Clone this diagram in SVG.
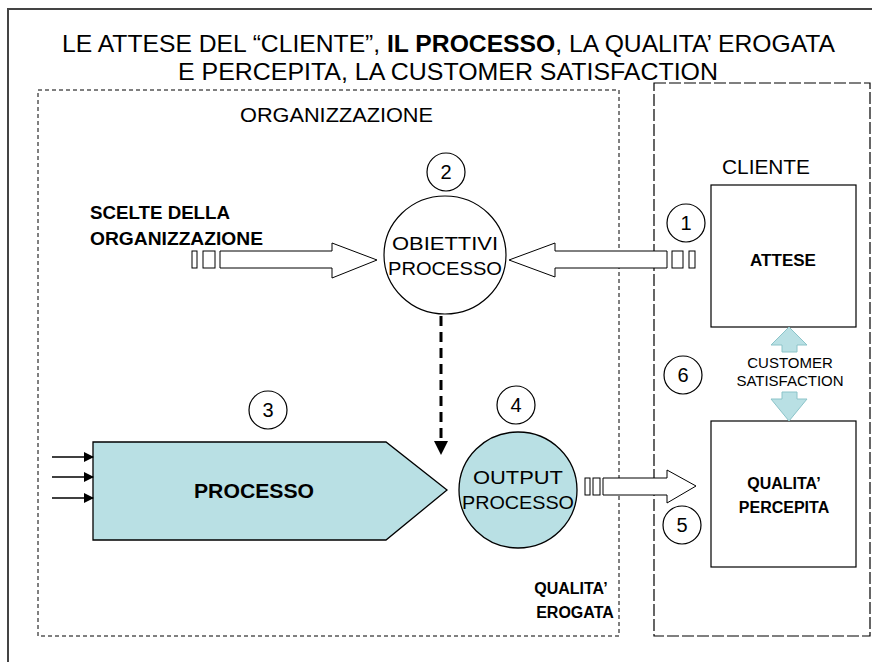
<svg xmlns="http://www.w3.org/2000/svg" width="872" height="662" viewBox="0 0 872 662">
<style>
text{font-family:"Liberation Sans",Arial,sans-serif;fill:#000}
.b{font-weight:bold}
.num{font-size:20px;text-anchor:middle}
.nc{fill:#fff;stroke:#000;stroke-width:1.2}
.teal{fill:#b9e0e4;stroke:#000;stroke-width:1.3}
.blk{fill:#fff;stroke:#000;stroke-width:1.2}
.lbl{font-size:16px;text-anchor:middle}
.big{font-size:19px;text-anchor:middle}
</style>
<defs>
<marker id="ah" markerWidth="10" markerHeight="10" refX="9" refY="5" orient="auto" markerUnits="userSpaceOnUse">
<path d="M0,0 L10,5 L0,10 Z" fill="#000"/>
</marker>
</defs>
<rect width="872" height="662" fill="#fff"/>
<g id="frame">
<path d="M8,662 V9 H872" fill="none" stroke="#444" stroke-width="2"/>
</g>
<g id="title">
<text x="62" y="52" font-size="24" textLength="773" lengthAdjust="spacingAndGlyphs">LE ATTESE DEL “CLIENTE”, <tspan class="b">IL PROCESSO</tspan>, LA QUALITA’ EROGATA</text>
<text x="178" y="80" font-size="24" textLength="540" lengthAdjust="spacingAndGlyphs">E PERCEPITA, LA CUSTOMER SATISFACTION</text>
</g>
<g id="organizzazione">
<rect x="38" y="90" width="581" height="546" fill="none" stroke="#000" stroke-width="1" stroke-dasharray="4,3"/>
<text x="240" y="122" font-size="21" textLength="193" lengthAdjust="spacingAndGlyphs">ORGANIZZAZIONE</text>
</g>
<g id="cliente">
<rect x="654" y="83" width="216" height="553" fill="none" stroke="#000" stroke-width="1.2" stroke-dasharray="12,3"/>
<text x="766" y="174" font-size="20" text-anchor="middle" textLength="88" lengthAdjust="spacingAndGlyphs">CLIENTE</text>
</g>
<g id="scelte">
<text x="90" y="219" font-size="18" class="b" textLength="140" lengthAdjust="spacingAndGlyphs">SCELTE DELLA</text>
<text x="90" y="245" font-size="18" class="b" textLength="173" lengthAdjust="spacingAndGlyphs">ORGANIZZAZIONE</text>
</g>
<g id="n2">
<circle cx="446" cy="172" r="19" class="nc"/>
<text x="446" y="179" class="num">2</text>
</g>
<g id="obiettivi">
<ellipse cx="445" cy="255" rx="61" ry="59" class="blk"/>
<text x="445" y="250" class="big" textLength="106" lengthAdjust="spacingAndGlyphs">OBIETTIVI</text>
<text x="445" y="275" class="big" textLength="114" lengthAdjust="spacingAndGlyphs">PROCESSO</text>
</g>
<g id="n1">
<circle cx="686" cy="223" r="19" class="nc"/>
<text x="686" y="230" class="num">1</text>
</g>
<g id="attese">
<rect x="711" y="185" width="145" height="142" class="blk"/>
<text x="783" y="266" font-size="17" class="b" text-anchor="middle">ATTESE</text>
</g>
<g id="n3">
<circle cx="268" cy="410" r="19" class="nc"/>
<text x="268" y="417" class="num">3</text>
</g>
<g id="processo">
<path d="M93,442 H386 L447,490 L386,540 H93 Z" class="teal"/>
<text x="254" y="498" font-size="20" class="b" text-anchor="middle" textLength="120" lengthAdjust="spacingAndGlyphs">PROCESSO</text>
</g>
<g id="n4">
<circle cx="516" cy="405" r="19" class="nc"/>
<text x="516" y="412" class="num">4</text>
</g>
<g id="output">
<ellipse cx="518" cy="490" rx="59" ry="58" class="teal"/>
<text x="518" y="484" class="big" textLength="90" lengthAdjust="spacingAndGlyphs">OUTPUT</text>
<text x="518" y="509" class="big" textLength="112" lengthAdjust="spacingAndGlyphs">PROCESSO</text>
</g>
<g id="n5">
<circle cx="682" cy="525" r="19" class="nc"/>
<text x="682" y="532" class="num">5</text>
</g>
<g id="n6">
<circle cx="683" cy="375" r="19" class="nc"/>
<text x="683" y="382" class="num">6</text>
</g>
<g id="qualita-percepita">
<rect x="711" y="421" width="145" height="146" class="blk"/>
<text x="784" y="489" class="lbl b">QUALITA’</text>
<text x="784" y="513" class="lbl b">PERCEPITA</text>
</g>
<g id="qualita-erogata">
<text x="571" y="594" class="lbl b">QUALITA’</text>
<text x="575" y="618" class="lbl b">EROGATA</text>
</g>
<g id="customer-satisfaction">
<text x="790" y="368" font-size="15" text-anchor="middle">CUSTOMER</text>
<text x="790" y="386" font-size="15" text-anchor="middle">SATISFACTION</text>
</g>
<g id="connectors">
<g fill="#fff" stroke="#000" stroke-width="1">
<rect x="192" y="251" width="5" height="17"/>
<rect x="203" y="251" width="12" height="17"/>
<path d="M220,251 H332 V243 L377,260 L332,278 V268 H220 Z"/>
<rect x="689" y="251" width="6" height="17"/>
<rect x="672" y="251" width="11" height="17"/>
<path d="M667,251 H555 V243 L509,260 L555,277 V268 H667 Z"/>
<rect x="585" y="478" width="5" height="17"/>
<rect x="593" y="478" width="7" height="17"/>
<path d="M603,478 H667 V470 L696,486 L667,503 V495 H603 Z"/>
</g>
<line x1="441" y1="316" x2="441" y2="440" stroke="#000" stroke-width="3" stroke-dasharray="10,6"/>
<path d="M434,441 L448,441 L441,455 Z" fill="#000"/>
<g stroke="#000" stroke-width="1.5" marker-end="url(#ah)">
<line x1="52" y1="457" x2="93" y2="457"/>
<line x1="52" y1="477" x2="93" y2="477"/>
<line x1="52" y1="498" x2="93" y2="498"/>
</g>
<g fill="#b9e0e4" stroke="#8cc4c9" stroke-width="1">
<path d="M789,327 L807,345 H797 V352 H782 V345 H771 Z"/>
<path d="M782,392 H797 V399 H807 L789,421 L771,399 H782 Z"/>
</g>
</g>
</svg>
